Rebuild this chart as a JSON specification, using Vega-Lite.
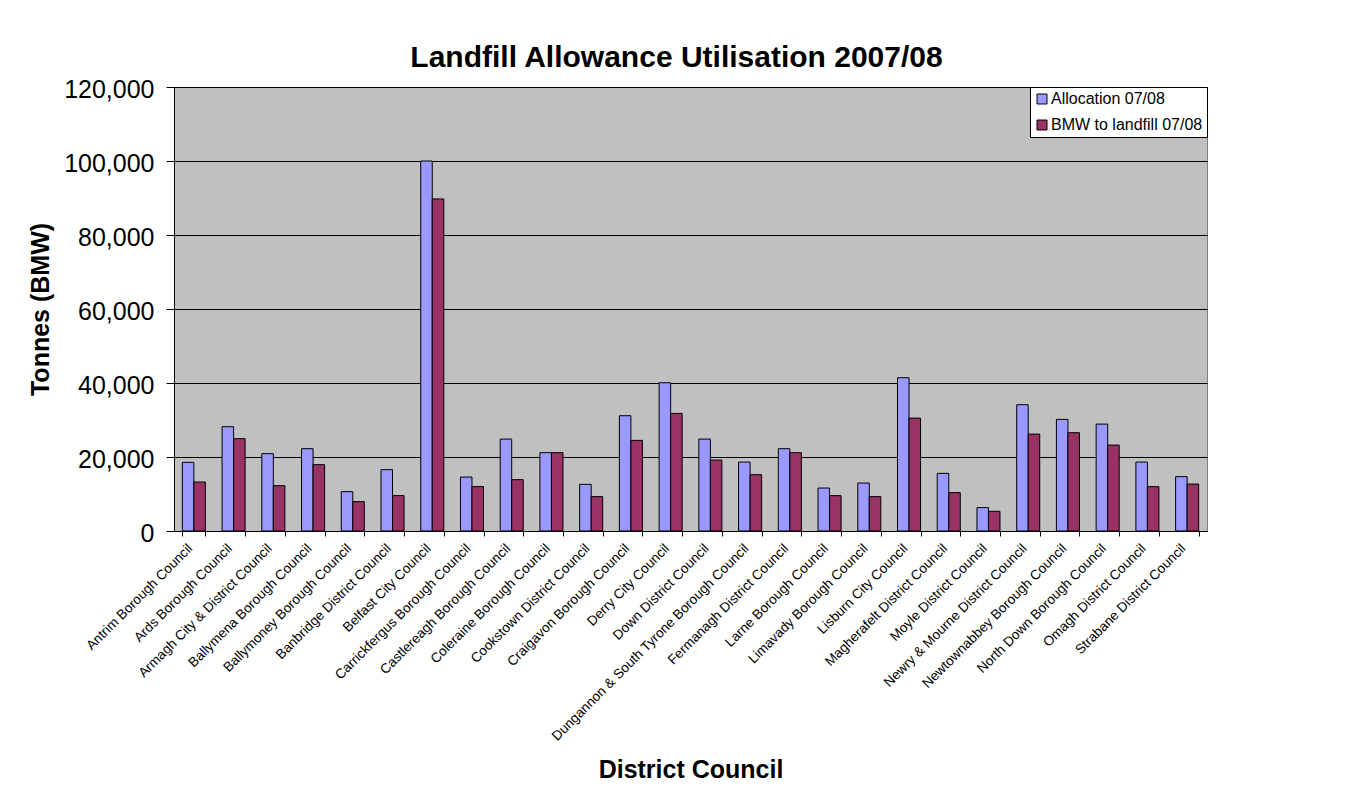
{
  "$schema": "https://vega.github.io/schema/vega-lite/v6.json",
  "autosize": {"type": "none"},
  "padding": {"left": 174, "top": 87, "right": 150, "bottom": 259},
  "width": 1033,
  "height": 444,
  "background": "white",
  "title": {
    "text": "Landfill Allowance Utilisation 2007/08",
    "font": "Liberation Sans",
    "fontSize": 30,
    "fontWeight": "bold",
    "color": "black",
    "anchor": "middle",
    "baseline": "alphabetic",
    "offset": 21,
    "dx": -14,
    "dy": 41
  },
  "data": {
    "values": [
      {"council": "Antrim Borough Council", "series": "Allocation 07/08", "tonnes": 18550},
      {"council": "Antrim Borough Council", "series": "BMW to landfill 07/08", "tonnes": 13230},
      {"council": "Ards Borough Council", "series": "Allocation 07/08", "tonnes": 28190},
      {"council": "Ards Borough Council", "series": "BMW to landfill 07/08", "tonnes": 24950},
      {"council": "Armagh City & District Council", "series": "Allocation 07/08", "tonnes": 20900},
      {"council": "Armagh City & District Council", "series": "BMW to landfill 07/08", "tonnes": 12260},
      {"council": "Ballymena Borough Council", "series": "Allocation 07/08", "tonnes": 22250},
      {"council": "Ballymena Borough Council", "series": "BMW to landfill 07/08", "tonnes": 17930},
      {"council": "Ballymoney Borough Council", "series": "Allocation 07/08", "tonnes": 10640},
      {"council": "Ballymoney Borough Council", "series": "BMW to landfill 07/08", "tonnes": 7940},
      {"council": "Banbridge District Council", "series": "Allocation 07/08", "tonnes": 16580},
      {"council": "Banbridge District Council", "series": "BMW to landfill 07/08", "tonnes": 9560},
      {"council": "Belfast City Council", "series": "Allocation 07/08", "tonnes": 100000},
      {"council": "Belfast City Council", "series": "BMW to landfill 07/08", "tonnes": 89750},
      {"council": "Carrickfergus Borough Council", "series": "Allocation 07/08", "tonnes": 14580},
      {"council": "Carrickfergus Borough Council", "series": "BMW to landfill 07/08", "tonnes": 11990},
      {"council": "Castlereagh Borough Council", "series": "Allocation 07/08", "tonnes": 24840},
      {"council": "Castlereagh Borough Council", "series": "BMW to landfill 07/08", "tonnes": 13880},
      {"council": "Coleraine Borough Council", "series": "Allocation 07/08", "tonnes": 21170},
      {"council": "Coleraine Borough Council", "series": "BMW to landfill 07/08", "tonnes": 21170},
      {"council": "Cookstown District Council", "series": "Allocation 07/08", "tonnes": 12610},
      {"council": "Cookstown District Council", "series": "BMW to landfill 07/08", "tonnes": 9290},
      {"council": "Craigavon Borough Council", "series": "Allocation 07/08", "tonnes": 31160},
      {"council": "Craigavon Borough Council", "series": "BMW to landfill 07/08", "tonnes": 24490},
      {"council": "Derry City Council", "series": "Allocation 07/08", "tonnes": 40070},
      {"council": "Derry City Council", "series": "BMW to landfill 07/08", "tonnes": 31780},
      {"council": "Down District Council", "series": "Allocation 07/08", "tonnes": 24840},
      {"council": "Down District Council", "series": "BMW to landfill 07/08", "tonnes": 19170},
      {"council": "Dungannon & South Tyrone Borough Council", "series": "Allocation 07/08", "tonnes": 18630},
      {"council": "Dungannon & South Tyrone Borough Council", "series": "BMW to landfill 07/08", "tonnes": 15230},
      {"council": "Fermanagh District Council", "series": "Allocation 07/08", "tonnes": 22250},
      {"council": "Fermanagh District Council", "series": "BMW to landfill 07/08", "tonnes": 21170},
      {"council": "Larne Borough Council", "series": "Allocation 07/08", "tonnes": 11610},
      {"council": "Larne Borough Council", "series": "BMW to landfill 07/08", "tonnes": 9560},
      {"council": "Limavady Borough Council", "series": "Allocation 07/08", "tonnes": 12960},
      {"council": "Limavady Borough Council", "series": "BMW to landfill 07/08", "tonnes": 9290},
      {"council": "Lisburn City Council", "series": "Allocation 07/08", "tonnes": 41420},
      {"council": "Lisburn City Council", "series": "BMW to landfill 07/08", "tonnes": 30510},
      {"council": "Magherafelt District Council", "series": "Allocation 07/08", "tonnes": 15580},
      {"council": "Magherafelt District Council", "series": "BMW to landfill 07/08", "tonnes": 10370},
      {"council": "Moyle District Council", "series": "Allocation 07/08", "tonnes": 6320},
      {"council": "Moyle District Council", "series": "BMW to landfill 07/08", "tonnes": 5320},
      {"council": "Newry & Mourne District Council", "series": "Allocation 07/08", "tonnes": 34130},
      {"council": "Newry & Mourne District Council", "series": "BMW to landfill 07/08", "tonnes": 26190},
      {"council": "Newtownabbey Borough Council", "series": "Allocation 07/08", "tonnes": 30160},
      {"council": "Newtownabbey Borough Council", "series": "BMW to landfill 07/08", "tonnes": 26570},
      {"council": "North Down Borough Council", "series": "Allocation 07/08", "tonnes": 28890},
      {"council": "North Down Borough Council", "series": "BMW to landfill 07/08", "tonnes": 23220},
      {"council": "Omagh District Council", "series": "Allocation 07/08", "tonnes": 18630},
      {"council": "Omagh District Council", "series": "BMW to landfill 07/08", "tonnes": 11990},
      {"council": "Strabane District Council", "series": "Allocation 07/08", "tonnes": 14690},
      {"council": "Strabane District Council", "series": "BMW to landfill 07/08", "tonnes": 12690}
    ]
  },
  "mark": {"type": "bar", "stroke": "black", "strokeWidth": 1},
  "encoding": {
    "x": {
      "field": "council",
      "type": "nominal",
      "sort": null,
      "scale": {"paddingInner": 0.42, "paddingOuter": 0.21},
      "axis": {
        "title": "District Council",
        "titleFont": "Liberation Sans",
        "titleFontSize": 25,
        "titleFontWeight": "bold",
        "titleColor": "black",
        "titlePadding": 26,
        "labelFont": "Liberation Sans",
        "labelFontSize": 13.6,
        "labelColor": "black",
        "labelAngle": -45,
        "labelAlign": "right",
        "labelBaseline": "middle",
        "labelPadding": 10,
        "labelOffset": -4,
        "labelOverlap": false,
        "labelLimit": 0,
        "tickBand": "extent",
        "tickSize": 5,
        "tickColor": "black",
        "domainColor": "black",
        "grid": false
      }
    },
    "xOffset": {"field": "series", "type": "nominal", "scale": {"paddingInner": 0, "paddingOuter": 0}},
    "y": {
      "field": "tonnes",
      "type": "quantitative",
      "scale": {"domain": [0, 120000], "nice": false},
      "axis": {
        "title": "Tonnes (BMW)",
        "titleFont": "Liberation Sans",
        "titleFontSize": 25,
        "titleFontWeight": "bold",
        "titleColor": "black",
        "titlePadding": 10,
        "values": [0, 20000, 40000, 60000, 80000, 100000, 120000],
        "format": ",d",
        "labelFont": "Liberation Sans",
        "labelFontSize": 25,
        "labelColor": "black",
        "labelPadding": 12,
        "labelOffset": 2,
        "tickSize": 8,
        "tickColor": "black",
        "domainColor": "black",
        "grid": true,
        "gridColor": "black",
        "gridOpacity": 1,
        "gridWidth": 1
      }
    },
    "color": {
      "field": "series",
      "type": "nominal",
      "scale": {"domain": ["Allocation 07/08", "BMW to landfill 07/08"], "range": ["#9999FF", "#993366"]},
      "legend": {
        "title": null,
        "orient": "top-right",
        "offset": 0,
        "fillColor": "white",
        "strokeColor": "black",
        "padding": 4,
        "rowPadding": 10,
        "symbolType": "square",
        "symbolSize": 100,
        "symbolStrokeColor": "black",
        "symbolStrokeWidth": 1,
        "labelFont": "Liberation Sans",
        "labelFontSize": 16,
        "labelColor": "black",
        "labelOffset": 1,
        "labelLimit": 0
      }
    }
  },
  "config": {
    "font": "Liberation Sans",
    "view": {"fill": "#C0C0C0", "stroke": "#808080", "strokeWidth": 1}
  }
}
